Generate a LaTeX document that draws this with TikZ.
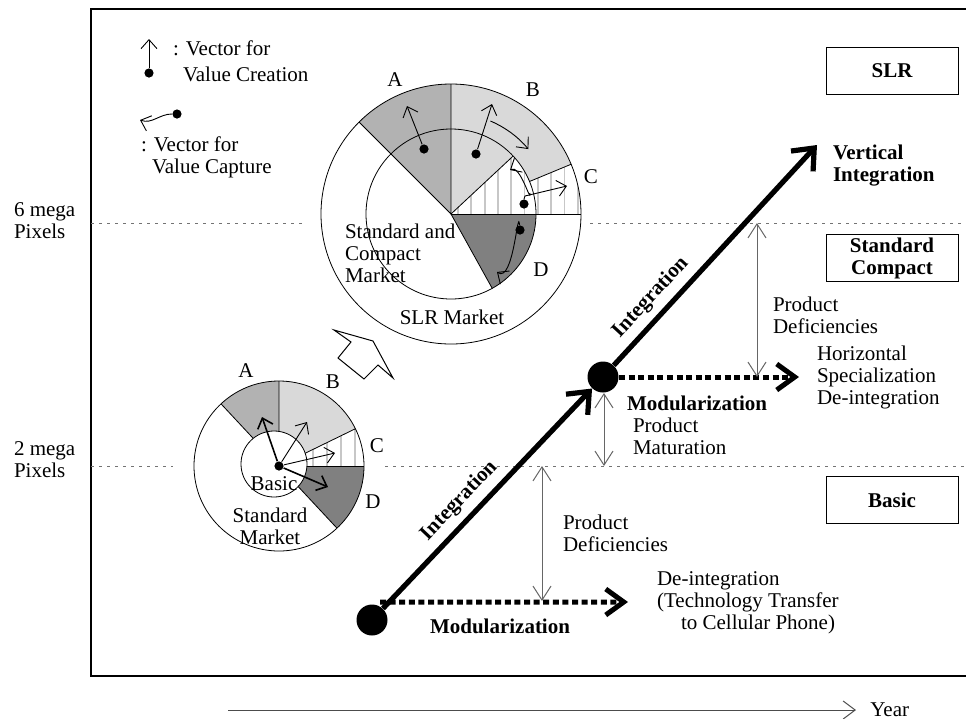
\documentclass[tikz,border=0pt]{standalone}
\usepackage{fontspec}
\setmainfont{Liberation Serif}
\usetikzlibrary{calc,arrows.meta}
\def\pieslice[#1](#2)(#3:#4:#5){\fill[#1] (#2) -- ($(#2)+(#3:#5)$) arc (#3:#4:#5) -- cycle;}
\def\ringslice[#1](#2)(#3:#4:#5:#6){\fill[#1] ($(#2)+(#3:#6)$) arc (#3:#4:#6) -- ($(#2)+(#4:#5)$) arc (#4:#3:#5) -- cycle;}

\begin{document}
\begin{tikzpicture}[x=0.5pt, y=-0.5pt, font=\fontsize{10.5}{11}\selectfont,
	levelline/.style={draw=black!55, line width=0.5pt, dash pattern=on 1.5pt off 2.5pt},
	stripe/.style={draw=black!22, line width=0.9pt},
	vdot/.style={circle, fill=black, inner sep=0pt, minimum size=4.6pt},
	bigdot/.style={circle, fill=black, inner sep=0pt, minimum size=15.5pt},
	vecarrow/.style={line width=0.45pt, -{Straight Barb[length=4.5pt,width=8pt]}},
	mainline/.style={line width=2.6pt, -{Straight Barb[length=9pt,width=15pt]}},
	modarrow/.style={line width=2.5pt, dash pattern=on 3pt off 1.8pt, -{Straight Barb[length=9pt,width=13pt]}},
	gaparrow/.style={draw=black!60, line width=0.5pt, {Straight Barb[length=7pt,width=9pt]}-{Straight Barb[length=7pt,width=9pt]}},
	boldlabel/.style={font=\fontsize{10.5}{11}\selectfont\bfseries},
	levelbox/.style={draw, line width=0.5pt, minimum width=66pt, minimum height=23.5pt, font=\fontsize{10.5}{11}\selectfont\bfseries, align=center, inner sep=1pt}]
		%%%%% START %%%%%
		\useasboundingbox (0,0) rectangle (966,719);
		
		\draw[line width=1pt] (970,9) -- (91,9) -- (91,676) -- (970,676);
		
		\draw[levelline] (91,223) -- (303,223);
		\draw[levelline] (590,223) -- (966,223);
		\draw[levelline] (91,466) -- (173,466);
		\draw[levelline] (385,466) -- (966,466);
		
		\node[anchor=west, align=left] (mp6) at (7,221) {6 mega\\Pixels};
		\node[anchor=west, align=left] (mp2) at (7,460) {2 mega\\Pixels};
		
		% legend
		\node[vdot] (lgA) at (149,73) {};
		\coordinate (lgAtip) at (149,39);
		\draw[vecarrow] (lgA) -- (lgAtip);
		\node[anchor=west, align=left, font=\fontsize{10.5}{13}\selectfont] (lgAtext) at (166,61) {: Vector for\\\hspace*{5pt}Value Creation};
		\node[vdot] (lgB) at (177,114) {};
		\coordinate (lgBtip) at (140,120);
		\draw[vecarrow] (lgB) to[out=180, in=-20] (lgBtip);
		\node[anchor=west, align=left] (lgBtext) at (134,157) {: Vector for\\\hspace*{5.5pt}Value Capture};
		
		% big pie
		\coordinate (bigc) at (451,214);
		\pieslice[black!30](bigc)(-90:-135:130)
		\ringslice[black!15](bigc)(-22.5:-90:85:130)
		\pieslice[black!15](bigc)(-43:-90:85)
		\begin{scope}
			\clip (bigc) -- ($(bigc)+(0:130)$) arc (0:-22.5:130) -- ($(bigc)+(-22.5:85)$) arc (-22.5:-43:85) -- cycle;
			\foreach \x in {458,471.3,...,585} \draw[stripe] (\x,70) -- (\x,230);
		\end{scope}
		\pieslice[black!50](bigc)(0:61:85)
		\draw (bigc) circle (130);
		\draw (bigc) circle (85);
		\draw ($(bigc)+(-135:130)$) -- (bigc) -- ($(bigc)+(-90:130)$);
		\draw (bigc) -- ($(bigc)+(-43:85)$);
		\draw ($(bigc)+(-22.5:85)$) -- ($(bigc)+(-22.5:130)$);
		\draw (bigc) -- ($(bigc)+(0:130)$);
		\draw (bigc) -- ($(bigc)+(61:85)$);
		
		\node[vdot] (bA) at (424,149) {};
		\node[vdot] (bB) at (476,154) {};
		\node[vdot] (bC) at (524,204) {};
		\node[vdot] (bD) at (520,230) {};
		\draw[vecarrow] (bA) -- (407,106);
		\draw[vecarrow] (bB) -- (492,104);
		\draw[vecarrow] ($(bigc)+(-67:101)$) arc (-67:-40:101);
		\draw[vecarrow] (bC.north) -- (525,196) -- (567,186);
		\draw[vecarrow] (530,193) to[out=-85, in=30] (510,170);
		\draw[vecarrow] (bD) to[out=95, in=-35] (497,272);
		
		\node (lbA) at (395,80) {A};
		\node (lbB) at (533,90) {B};
		\node (lbC) at (591,177) {C};
		\node (lbD) at (541,270) {D};
		\node[anchor=west, align=left] (scm) at (338,253) {Standard and\\Compact\\Market};
		\node (slrm) at (452,317) {SLR Market};
		
		% small pie
		\coordinate (smallc) at (279,466);
		\pieslice[black!30](smallc)(-90:-133:85)
		\pieslice[black!15](smallc)(-26:-90:85)
		\begin{scope}
			\clip (smallc) -- ($(smallc)+(0:85)$) arc (0:-26:85) -- cycle;
			\foreach \x in {313,327,...,370} \draw[stripe] (\x,400) -- (\x,470);
		\end{scope}
		\pieslice[black!50](smallc)(0:47:85)
		\draw (smallc) circle (85);
		\draw ($(smallc)+(-133:85)$) -- (smallc) -- ($(smallc)+(-90:85)$);
		\draw (smallc) -- ($(smallc)+(-26:85)$);
		\draw (smallc) -- ($(smallc)+(0:85)$);
		\draw (smallc) -- ($(smallc)+(47:85)$);
		\draw[fill=white] (274,464) circle (33);
		
		\node[vdot] (sO) at (279,466) {};
		\draw[vecarrow, line width=0.8pt] (sO) -- (262,417);
		\draw[vecarrow] (sO) -- (307,422);
		\draw[vecarrow] (sO) -- (335,453);
		\draw[vecarrow, line width=0.8pt] (sO) -- (328,487);
		
		\node (slA) at (246,371) {A};
		\node (slB) at (333,382) {B};
		\node (slC) at (377,446) {C};
		\node (slD) at (373,502) {D};
		\node (basic) at (274,484) {Basic};
		\node[align=center] (stdm) at (270,526) {Standard\\Market};
		
		\draw[line width=0.5pt] (334,330) -- (373,341) -- (393,378) -- (378,365) -- (364,379) -- (338,358) -- (351,342) -- cycle;
		
		% integration path
		\node[bigdot] (start) at (372,620) {};
		\node[bigdot] (turn) at (603,377) {};
		\coordinate (top) at (817,145);
		\draw[mainline] (start) -- node[pos=0.43, sloped, above, boldlabel] {Integration} (turn);
		\draw[mainline] (turn) -- node[pos=0.25, sloped, above, boldlabel] {Integration} (top);
		\node[anchor=west, align=left, boldlabel] (vint) at (826,166) {Vertical\\Integration};
		
		\coordinate (deint) at (628,602);
		\coordinate (hspec) at (799,377);
		\draw[modarrow] (start.north) ++(8,-2) -- (deint);
		\draw[modarrow] (turn) -- (hspec);
		\node[boldlabel] (modA) at (500,626) {Modularization};
		\node[anchor=west, boldlabel] (modB) at (620,403) {Modularization};
		
		\coordinate (gapAt) at (542,466);
		\coordinate (gapAb) at (542,601);
		\coordinate (gapBt) at (604,393);
		\coordinate (gapBb) at (604,466);
		\coordinate (gapCt) at (757,223);
		\coordinate (gapCb) at (757,377);
		\draw[gaparrow] (gapAt) -- (gapAb);
		\draw[gaparrow] (gapBt) -- (gapBb);
		\draw[gaparrow] (gapCt) -- (gapCb);
		
		\node[anchor=west, align=left] (pdA) at (556,533) {Product\\Deficiencies};
		\node[anchor=west, align=left] (pmat) at (626,436) {Product\\Maturation};
		\node[anchor=west, align=left] (pdC) at (766,315) {Product\\Deficiencies};
		\node[anchor=west, align=left] (hsd) at (810,377) {Horizontal\\Specialization\\De-integration};
		\node[anchor=west, align=left] (dtt) at (650,603) {De-integration\\(Technology Transfer\\\hspace*{12pt}to Cellular Phone)};
		
		% levels
		\node[levelbox] (slr) at (892,71) {SLR};
		\node[levelbox] (stc) at (892,258) {Standard\\Compact};
		\node[levelbox] (bas) at (892,500) {Basic};
		
		% time axis
		\coordinate (yrA) at (228,710);
		\coordinate (yrB) at (856,710);
		\draw[draw=black!70, line width=0.5pt, -{Straight Barb[length=6pt,width=9pt]}] (yrA) -- (yrB);
		\node[anchor=base west, inner sep=0pt] (year) at (870,716) {Year};
		%%%%% END %%%%%
\end{tikzpicture}
\end{document}
